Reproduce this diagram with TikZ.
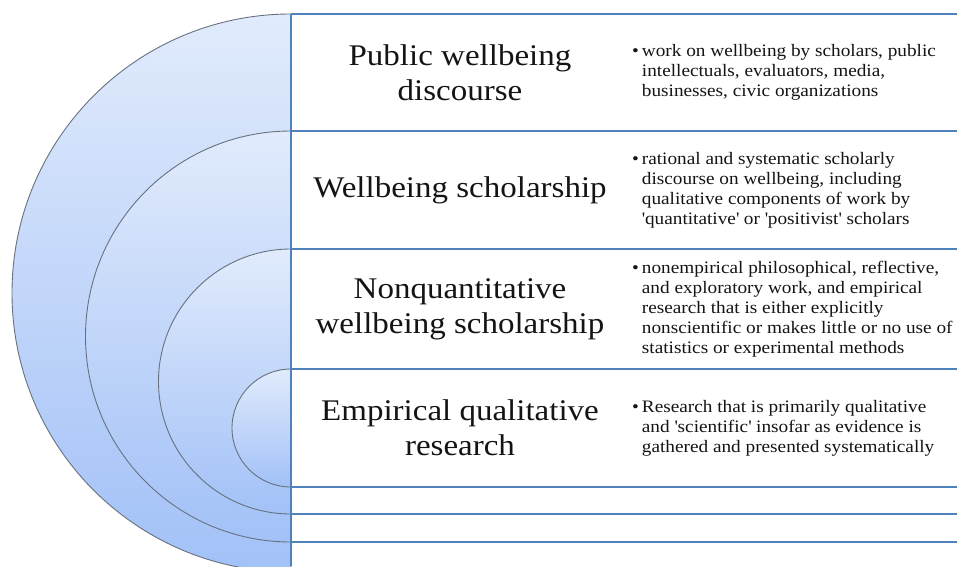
\documentclass[tikz,border=0pt]{standalone}
\usepackage{fontspec}
\setmainfont{Liberation Serif}[FakeStretch=1.1]
\usetikzlibrary{positioning}
\definecolor{ringTop}{HTML}{E1EBFC}
\definecolor{ringBottom}{HTML}{A2C1F7}
\definecolor{ringEdge}{HTML}{66727F}
\definecolor{ruleBlue}{HTML}{4F81BD}
\definecolor{textDark}{HTML}{141414}
\newcommand{\sq}{\textquotesingle}

\begin{document}
\begin{tikzpicture}[x=1pt, y=1pt,
    ring/.style={draw=ringEdge, line width=0.9pt, top color=ringTop, bottom color=ringBottom},
    rule/.style={draw=ruleBlue, line width=1.6pt},
    title/.style={align=center, inner sep=0pt, text=textDark, font=\fontsize{30}{35}\selectfont},
    note/.style={anchor=west, inner sep=0pt, text=textDark, font=\fontsize{17.5}{20}\selectfont},
]
    \useasboundingbox (0,0) rectangle (957,566);

    % nested half circles, outermost first
    \draw[ring] (291,552) arc[start angle=90, end angle=270, radius=279] -- cycle;
    \draw[ring] (291,435) arc[start angle=90, end angle=270, radius=205.5] -- cycle;
    \draw[ring] (291,317) arc[start angle=90, end angle=270, radius=132.5] -- cycle;
    \draw[ring] (291,197) arc[start angle=90, end angle=270, radius=59] -- cycle;

    % table rules
    \coordinate (spineTop) at (291,552);
    \coordinate (spineEnd) at (291,0);
    \draw[rule] (spineTop) -- (957,552);
    \draw[rule] (291,435) -- (957,435);
    \draw[rule] (291,317) -- (957,317);
    \draw[rule] (291,197) -- (957,197);
    \draw[rule] (291,79) -- (957,79);
    \draw[rule] (291,52) -- (957,52);
    \draw[rule] (291,24) -- (957,24);
    \draw[rule] (spineTop) -- (spineEnd);

    \node[title] (public) at (460,493.5) {Public wellbeing\\discourse};
    \node[title] (scholar) at (460,376) {Wellbeing scholarship};
    \node[title] (nonquant) at (460,257) {Nonquantitative\\wellbeing scholarship};
    \node[title] (empir) at (460,138) {Empirical qualitative\\research};

    \node[note] (publicNote) at (632,493.5) {\begin{tabular}{@{}l@{\hspace{3pt}}l@{}}
        \textbullet & work on wellbeing by scholars, public\\
        & intellectuals, evaluators, media,\\
        & businesses, civic organizations\end{tabular}};
    \node[note] (scholarNote) at (632,376) {\begin{tabular}{@{}l@{\hspace{3pt}}l@{}}
        \textbullet & rational and systematic scholarly\\
        & discourse on wellbeing, including\\
        & qualitative components of work by\\
        & \sq quantitative\sq{} or \sq positivist\sq{} scholars\end{tabular}};
    \node[note] (nonquantNote) at (632,257) {\begin{tabular}{@{}l@{\hspace{3pt}}l@{}}
        \textbullet & nonempirical philosophical, reflective,\\
        & and exploratory work, and empirical\\
        & research that is either explicitly\\
        & nonscientific or makes little or no use of\\
        & statistics or experimental methods\end{tabular}};
    \node[note] (empirNote) at (632,138) {\begin{tabular}{@{}l@{\hspace{3pt}}l@{}}
        \textbullet & Research that is primarily qualitative\\
        & and \sq scientific\sq{} insofar as evidence is\\
        & gathered and presented systematically\end{tabular}};
\end{tikzpicture}
\end{document}
